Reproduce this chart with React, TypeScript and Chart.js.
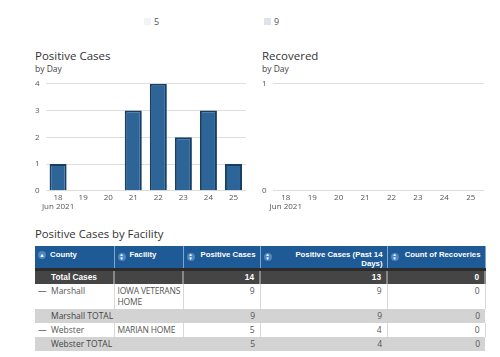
import React, { useEffect, useRef } from "react";
import { Chart, registerables } from "chart.js";
Chart.register(...registerables);

const days = ["18", "19", "20", "21", "22", "23", "24", "25"];
const monthLabel = "Jun 2021";
const positiveByDay = [1, 0, 0, 3, 4, 2, 3, 1];
const recoveredByDay = [0, 0, 0, 0, 0, 0, 0, 0];
const legendItems = ["5", "9"];

const tableHeaders = ["County", "Facility", "Positive Cases", "Positive Cases (Past 14 Days)", "Count of Recoveries"];
const totalRow = ["Total Cases", "", "14", "13", "0"];
const facilityRows = [
  { county: "Marshall", facility: "IOWA VETERANS HOME", pos: "9", pos14: "9", rec: "0" },
  { county: "Webster", facility: "MARIAN HOME", pos: "5", pos14: "4", rec: "0" },
];

const FONT = "'Open Sans', sans-serif";
const HFONT = "'Liberation Sans', Arial, sans-serif";

function BarChart({ data, max, left, top, width, height }: any) {
  const ref = useRef<HTMLCanvasElement>(null);
  useEffect(() => {
    const labels = days.map((d, i) => (i === 0 ? [d, monthLabel] : d));
    const chart = new Chart(ref.current!, {
      type: "bar",
      data: {
        labels,
        datasets: [
          {
            data,
            backgroundColor: "#2e6599",
            borderColor: "#173f63",
            borderWidth: 2,
            barPercentage: 0.68,
            categoryPercentage: 1,
          },
        ],
      },
      options: {
        animation: false,
        responsive: false,
        maintainAspectRatio: false,
        layout: { padding: { left: 0, right: 2, top: 4, bottom: 0 } },
        plugins: { legend: { display: false }, tooltip: { enabled: false } },
        scales: {
          x: {
            grid: { display: false, drawTicks: false },
            border: { display: false },
            ticks: { color: "#555", font: { family: FONT, size: 8 }, padding: 2, maxRotation: 0, autoSkip: false },
          },
          y: {
            min: 0,
            max,
            grid: { color: "#dedede", lineWidth: 1, drawTicks: false },
            border: { display: false },
            ticks: { stepSize: 1, color: "#555", font: { family: FONT, size: 8 }, padding: 6 },
          },
        },
      },
    });
    return () => chart.destroy();
  }, []);
  return (
    <canvas
      ref={ref}
      width={width}
      height={height}
      style={{ position: "absolute", left, top, width, height }}
    />
  );
}

function SortIcon({ single }: { single?: boolean }) {
  return (
    <span
      style={{
        display: "inline-block",
        width: 8,
        height: 8,
        borderRadius: 4,
        background: "#4d86c0",
        color: "#fff",
        fontSize: single ? 5.5 : 4.5,
        lineHeight: single ? "8px" : "4px",
        textAlign: "center",
        whiteSpace: "pre",
        flex: "none",
      }}
    >
      {single ? "▲" : "▲\n▼"}
    </span>
  );
}

export default function App() {
  const colW = [79, 69, 77, 127, 98];
  const headCell: React.CSSProperties = {
    background: "#1e5a95",
    color: "#fff",
    fontFamily: HFONT,
    fontWeight: "bold",
    fontSize: 7.8,
    verticalAlign: "top",
    padding: "4px 4px 0 3px",
    borderRight: "1px solid #7fa6cc",
    lineHeight: "9px",
    height: 21,
    boxSizing: "border-box",
  };
  const cell: React.CSSProperties = {
    fontFamily: FONT,
    fontSize: 8.5,
    color: "#555",
    padding: "1px 5px 0 3px",
    verticalAlign: "top",
    borderRight: "1px solid #d8d8d8",
    lineHeight: "11px",
  };
  const rowH = [12, 24, 13, 13, 13];
  return (
    <div style={{ position: "fixed", left: 0, top: 0, width: 500, height: 357, background: "#fff", overflow: "hidden", fontFamily: FONT }}>
      {/* top legend items */}
      <div style={{ position: "absolute", left: 144, top: 15, fontSize: 9, color: "#555", display: "flex", alignItems: "center" }}>
        <span style={{ display: "inline-block", width: 7, height: 7, background: "#eef4f7", marginRight: 3 }} />
        {legendItems[0]}
      </div>
      <div style={{ position: "absolute", left: 264, top: 15, fontSize: 9, color: "#555", display: "flex", alignItems: "center" }}>
        <span style={{ display: "inline-block", width: 7, height: 7, background: "#dde3ea", marginRight: 3 }} />
        {legendItems[1]}
      </div>

      {/* Positive Cases */}
      <div style={{ position: "absolute", left: 35, top: 48, fontSize: 11.5, color: "#333" }}>Positive Cases</div>
      <div style={{ position: "absolute", left: 35, top: 63, fontSize: 8.5, color: "#444" }}>by Day</div>
      <BarChart data={positiveByDay} max={4} left={29} top={73} width={219} height={141} />

      {/* Recovered */}
      <div style={{ position: "absolute", left: 262, top: 48, fontSize: 11.5, color: "#333" }}>Recovered</div>
      <div style={{ position: "absolute", left: 262, top: 63, fontSize: 8.5, color: "#444" }}>by Day</div>
      <BarChart data={recoveredByDay} max={1} left={256} top={73} width={230} height={141} />

      {/* Table */}
      <div style={{ position: "absolute", left: 35, top: 226, fontSize: 11.3, color: "#333" }}>Positive Cases by Facility</div>
      <table
        style={{
          position: "absolute",
          left: 35,
          top: 246,
          width: 450,
          borderCollapse: "collapse",
          tableLayout: "fixed",
        }}
      >
        <colgroup>
          {colW.map((w, i) => (
            <col key={i} style={{ width: w }} />
          ))}
        </colgroup>
        <thead>
          <tr>
            {tableHeaders.map((h, i) => (
              <th key={i} style={{ ...headCell, textAlign: i < 2 ? "left" : "right", borderBottom: "3px solid #2c2c2c" }}>
                <div style={{ display: "flex", alignItems: "flex-start", justifyContent: i < 2 ? "flex-start" : "space-between", gap: 4 }}>
                  <span style={{ marginTop: i === 0 ? 0 : 3 }}><SortIcon single={i === 0} /></span>
                  <span style={{ textAlign: i < 2 ? "left" : "right" }}>{h}</span>
                </div>
              </th>
            ))}
          </tr>
        </thead>
        <tbody>
          <tr>
            {totalRow.map((v, i) => (
              <td
                key={i}
                style={{
                  ...cell,
                  background: "#454545",
                  color: "#fff",
                  fontWeight: "bold",
                  fontFamily: HFONT,
                  fontSize: 8.3,
                  textAlign: i < 2 ? "left" : "right",
                  paddingLeft: i === 0 ? 16 : 3,
                  borderRight: "2px solid #888",
                  height: rowH[0],
                }}
              >
                {v}
              </td>
            ))}
          </tr>
          {facilityRows.map((r, k) => (
            <React.Fragment key={k}>
              <tr style={{ background: "#fff" }}>
                <td style={{ ...cell, paddingLeft: 3, height: k === 0 ? rowH[1] : rowH[3] }}>
                  <span style={{ display: "inline-block", width: 13, color: "#444" }}>—</span>
                  {r.county}
                </td>
                <td style={{ ...cell, padding: "1px 1px 0 3px", letterSpacing: -0.2 }}>{r.facility}</td>
                <td style={{ ...cell, textAlign: "right" }}>{r.pos}</td>
                <td style={{ ...cell, textAlign: "right" }}>{r.pos14}</td>
                <td style={{ ...cell, textAlign: "right" }}>{r.rec}</td>
              </tr>
              <tr style={{ background: "#d3d3d3" }}>
                <td colSpan={2} style={{ ...cell, paddingLeft: 16, color: "#444", borderRight: "none", height: rowH[2] }}>
                  {r.county} TOTAL
                </td>
                <td style={{ ...cell, textAlign: "right", borderRight: "none" }}>{r.pos}</td>
                <td style={{ ...cell, textAlign: "right", borderRight: "none" }}>{r.pos14}</td>
                <td style={{ ...cell, textAlign: "right", borderRight: "none" }}>{r.rec}</td>
              </tr>
            </React.Fragment>
          ))}
        </tbody>
      </table>
    </div>
  );
}
